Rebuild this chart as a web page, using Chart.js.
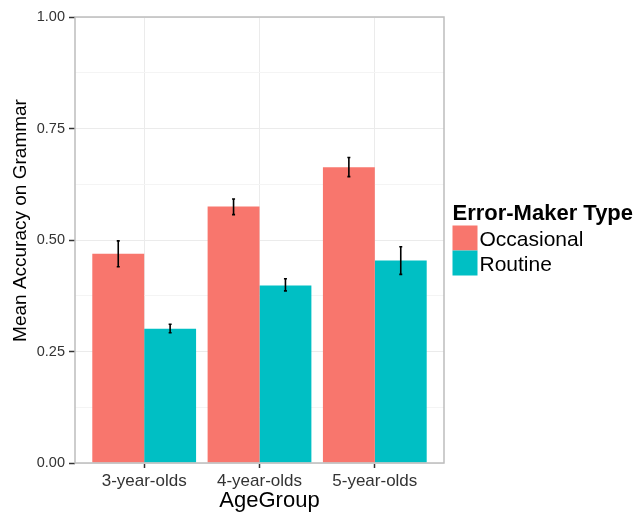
<!DOCTYPE html>
<html>
<head>
<meta charset="utf-8">
<script src="https://cdn.jsdelivr.net/npm/chart.js@4.4.1/dist/chart.umd.min.js"></script>
<style>
  html, body { margin: 0; padding: 0; background: #fff; }
</style>
</head>
<body>
<canvas id="myChart" width="637" height="513"></canvas>
<script>
// 資料
const categories = ['3-year-olds', '4-year-olds', '5-year-olds'];
const seriesNames = ['Occasional', 'Routine'];
const occasional = [0.469, 0.575, 0.663];
const routine = [0.301, 0.398, 0.454];
const occasionalLow = [0.440, 0.557, 0.642];
const occasionalHigh = [0.498, 0.592, 0.685];
const routineLow = [0.292, 0.386, 0.423];
const routineHigh = [0.311, 0.413, 0.485];
const yTickLabels = ['0.00', '0.25', '0.50', '0.75', '1.00'];
const legendTitle = 'Error-Maker Type';
const xTitle = 'AgeGroup';
const yTitle = 'Mean Accuracy on Grammar';

const colors = ['#F8766D', '#00BFC4'];
const FONT = "'Liberation Sans', Arial, Helvetica, sans-serif";

const isMajor = v => Math.abs(v * 4 - Math.round(v * 4)) < 1e-9;

// 誤差線
const errorBars = {
  id: 'errorBars',
  afterDatasetsDraw(chart) {
    const ctx = chart.ctx;
    const y = chart.scales.y;
    ctx.save();
    ctx.strokeStyle = '#000';
    ctx.lineWidth = 1.6;
    chart.data.datasets.forEach((ds, i) => {
      chart.getDatasetMeta(i).data.forEach((bar, j) => {
        const top = y.getPixelForValue(ds.errHigh[j]);
        const bottom = y.getPixelForValue(ds.errLow[j]);
        ctx.beginPath();
        ctx.moveTo(bar.x, top);
        ctx.lineTo(bar.x, bottom);
        ctx.moveTo(bar.x - 1.5, top);
        ctx.lineTo(bar.x + 1.5, top);
        ctx.moveTo(bar.x - 1.5, bottom);
        ctx.lineTo(bar.x + 1.5, bottom);
        ctx.stroke();
      });
    });
    ctx.restore();
  }
};

// 面板外框
const panelBorder = {
  id: 'panelBorder',
  afterDatasetsDraw(chart) {
    const {ctx, chartArea: a} = chart;
    ctx.save();
    ctx.strokeStyle = '#bdbdbd';
    ctx.lineWidth = 1.5;
    ctx.strokeRect(a.left, a.top, a.right - a.left, a.bottom - a.top);
    ctx.restore();
  }
};

// 軸標題 (位置照原圖, 不在面板正中)
const axisTitles = {
  id: 'axisTitles',
  afterDraw(chart) {
    const {ctx, chartArea: a} = chart;
    ctx.save();
    ctx.fillStyle = '#000';
    ctx.textBaseline = 'alphabetic';
    ctx.textAlign = 'center';
    ctx.font = '22px ' + FONT;
    ctx.fillText(xTitle, (a.left + a.right) / 2 + 10, 507);
    ctx.font = '19px ' + FONT;
    ctx.translate(25.5, (a.top + a.bottom) / 2 - 19.5);
    ctx.rotate(-Math.PI / 2);
    ctx.fillText(yTitle, 0, 0);
    ctx.restore();
  }
};

// 圖例 (ggplot 風格)
const ggLegend = {
  id: 'ggLegend',
  afterDraw(chart) {
    const {ctx, chartArea: a} = chart;
    const cy = (a.top + a.bottom) / 2;
    const x0 = a.right + 8.5;
    ctx.save();
    ctx.fillStyle = '#000';
    ctx.textBaseline = 'alphabetic';
    ctx.textAlign = 'left';
    ctx.font = 'bold 22px ' + FONT;
    ctx.fillText(legendTitle, x0, cy - 20);
    ctx.font = '21px ' + FONT;
    chart.data.datasets.forEach((ds, i) => {
      const top = cy - 14.5 + i * 25;
      ctx.fillStyle = ds.backgroundColor;
      ctx.fillRect(x0, top, 25, 25);
      ctx.fillStyle = '#000';
      ctx.fillText(ds.label, x0 + 27, top + 20.5);
    });
    ctx.restore();
  }
};

const toPoints = arr => arr.map((v, i) => ({x: i + 1, y: v}));

const chart = new Chart(document.getElementById('myChart'), {
  type: 'bar',
  data: {
    datasets: [
      {label: seriesNames[0], data: toPoints(occasional), backgroundColor: colors[0],
       errLow: occasionalLow, errHigh: occasionalHigh},
      {label: seriesNames[1], data: toPoints(routine), backgroundColor: colors[1],
       errLow: routineLow, errHigh: routineHigh}
    ]
  },
  options: {
    responsive: false,
    animation: false,
    devicePixelRatio: 1,
    categoryPercentage: 0.9,
    barPercentage: 1.0,
    layout: {padding: {left: 0, right: 193, top: 17, bottom: 0}},
    plugins: {legend: {display: false}, tooltip: {enabled: false}},
    scales: {
      x: {
        type: 'linear',
        min: 0.4,
        max: 3.6,
        offset: false,
        afterBuildTicks: axis => { axis.ticks = categories.map((c, i) => ({value: i + 1})); },
        afterFit: scale => { scale.height = 50; },
        border: {display: false},
        grid: {offset: false, color: '#ebebeb', lineWidth: 1, tickColor: '#333', tickLength: 5, tickWidth: 1.5},
        ticks: {
          autoSkip: false, maxRotation: 0, padding: 3, color: '#333',
          font: {family: FONT, size: 17, lineHeight: 1.2},
          callback: v => categories[v - 1]
        },
        title: {display: false}
      },
      y: {
        min: 0,
        max: 1,
        afterFit: scale => { scale.width = 75; },
        border: {display: false},
        grid: {
          color: c => isMajor(c.tick.value) ? '#ebebeb' : '#f4f4f4',
          tickColor: c => isMajor(c.tick.value) ? '#333' : 'rgba(0,0,0,0)',
          tickLength: 6, tickWidth: 1.5
        },
        ticks: {
          stepSize: 0.125, autoSkip: false, padding: 4, color: '#333',
          font: {family: FONT, size: 14.5},
          callback: v => isMajor(v) ? yTickLabels[Math.round(v * 4)] : ''
        },
        title: {display: false}
      }
    }
  },
  plugins: [errorBars, panelBorder, axisTitles, ggLegend]
});
</script>
</body>
</html>
